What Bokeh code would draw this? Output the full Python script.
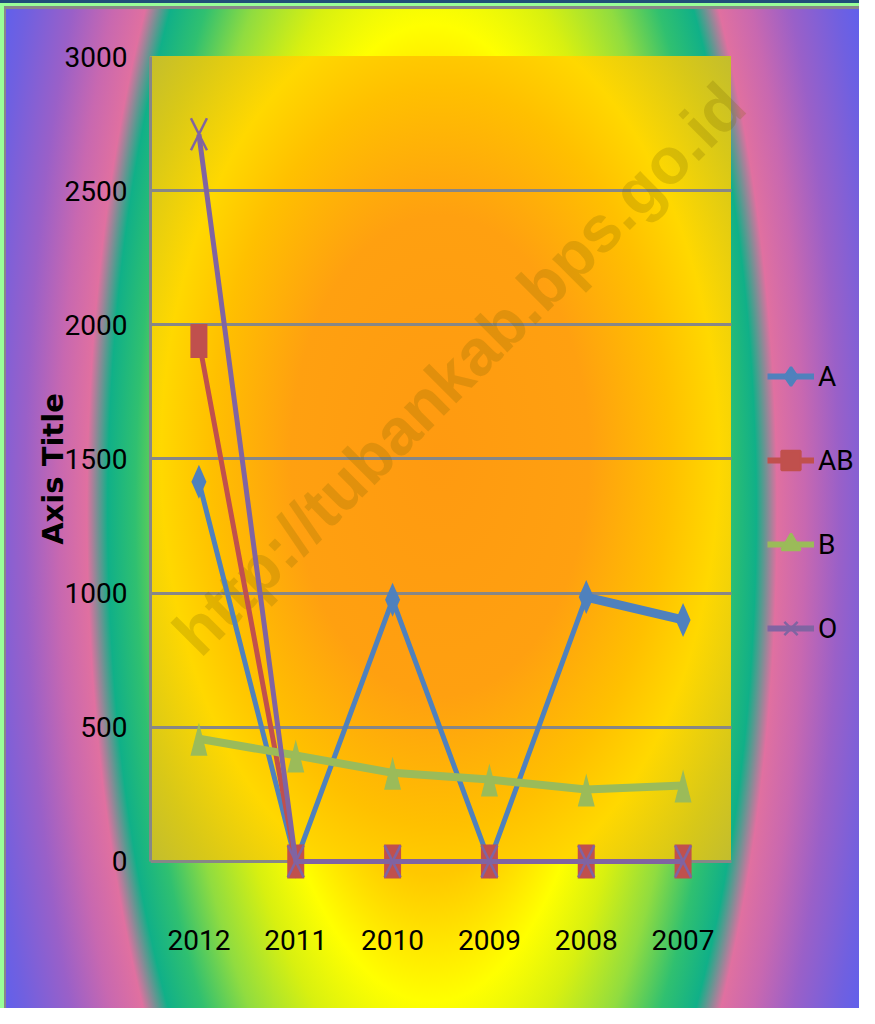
import numpy as np
from bokeh.plotting import figure
from bokeh.models import FixedTicker, Legend, LegendItem, Range1d
from bokeh.core.properties import value
from bokeh.embed import file_html
from bokeh.resources import INLINE

# ---- data ----
years = ["2012", "2011", "2010", "2009", "2008", "2007"]
a_vals = [1415, 0, 975, 0, 985, 900]
ab_vals = [1940, 0, 0, 0, 0, 0]
b_vals = [457, 395, 330, 305, 268, 283]
o_vals = [2710, 0, 0, 0, 0, 0]
y_ticks = [0, 500, 1000, 1500, 2000, 2500, 3000]
series_names = ["A", "AB", "B", "O"]
watermark = "http://tubankab.bps.go.id"
y_title = "Axis Title"

# ---- layout / style ----
C_A, C_AB, C_B, C_O = "#4F81BD", "#C0504D", "#9BBB59", "#8064A2"
GRID = "#878787"
NARROW = "Roboto"
W, H = 859, 1008
FL, FT, FW, FH = 150, 56, 581, 825     # visible plot area (left, top, width, height)
Y0, Y1 = -75, 3000
X0, X1 = -0.5, len(years) - 0.5
SX = FW / (X1 - X0)          # px per x unit
SY = FH / (Y1 - Y0)          # px per y unit
XR = X1 + (W - FL - FW) / SX  # frame extended to the right edge (room for legend)
xs = list(range(len(years)))

frame_bg = ("radial-gradient(ellipse 310px 500px at 290px 400px, #FF9A10 0%, #FFA010 48%, "
            "#FFC000 74%, #FFD800 90%, #D8C818 110%, #B8B838 130%) "
            f"{FL}px {FT}px / {FW}px 805px no-repeat")
outer_bg = ("radial-gradient(ellipse 345px 905px at 426px 504px, #FFA000 0%, #FFC800 40%, #FFFF00 54%, "
            "#D8F010 64%, #90DC40 76%, #30C070 86%, #10B088 94%, #E070A0 100%, #C868B0 108%, "
            "#9A60C8 118%, #7060E0 130%, #5060F8 142%) 6px 9px / 853px 999px no-repeat")
page_bg = ", ".join([
    frame_bg,
    outer_bg,
    "linear-gradient(#888888,#888888) 4px 6px / 855px 1002px no-repeat",
    "linear-gradient(#1F4E79,#1F4E79) 0px 0px / 100% 3px no-repeat",
    "#99FF99",
])

p = figure(width=W, height=H, x_range=Range1d(X0, XR), y_range=Range1d(Y0, Y1),
           output_backend="svg", toolbar_location=None,
           min_border_left=FL, min_border_top=FT,
           min_border_right=0, min_border_bottom=H - FT - FH)
p.styles = {"background": page_bg}
p.border_fill_color = None
p.background_fill_color = None
p.outline_line_color = None

# axes
p.xaxis.ticker = FixedTicker(ticks=xs)
p.xaxis.major_label_overrides = {i: y for i, y in enumerate(years)}
p.xaxis.axis_line_color = None
p.xaxis.major_tick_line_color = None
p.xaxis.minor_tick_line_color = None
p.xaxis.major_label_standoff = 42
p.xaxis.major_label_text_font = NARROW
p.xaxis.major_label_text_font_size = "28px"
p.xaxis.major_label_text_color = "#000000"

p.yaxis.ticker = FixedTicker(ticks=y_ticks)
p.yaxis.bounds = (0, 3000)
p.yaxis.axis_line_color = GRID
p.yaxis.axis_line_width = 3
p.yaxis.major_tick_line_color = None
p.yaxis.minor_tick_line_color = None
p.yaxis.major_label_standoff = 17
p.yaxis.major_label_text_font = NARROW
p.yaxis.major_label_text_font_size = "28px"
p.yaxis.major_label_text_color = "#000000"
p.yaxis.axis_label = y_title
p.yaxis.axis_label_text_font = "DejaVu Sans"
p.yaxis.axis_label_text_font_style = "bold"
p.yaxis.axis_label_text_font_size = "29px"
p.yaxis.axis_label_text_color = "#000000"
p.yaxis.axis_label_standoff = -8

p.xgrid.grid_line_color = None
p.ygrid.ticker = FixedTicker(ticks=y_ticks)
p.ygrid.cross_bounds = (X0, X1)
p.ygrid.grid_line_color = GRID
p.ygrid.grid_line_width = 3

# watermark
wm_x = X0 + 34 / SX
wm_y = 0 + 218 / SY
p.text(x=[wm_x], y=[wm_y], text=[watermark], angle=45, angle_units="deg",
       text_font=value("Liberation Sans"), text_font_style="bold", text_font_size="65px",
       text_color="#786400", text_alpha=0.22, text_align="left", text_baseline="alphabetic")

# marker helpers (pixel sizes -> data offsets)
def diamond(xv, yv, hw=7.5, hh=17):
    dx, dy = hw / SX, hh / SY
    return ([[x - dx, x, x + dx, x] for x in xv], [[y, y + dy, y, y - dy] for y in yv])

def triangle(xv, yv, hw=8.5, up=16, down=17):
    dx, du, dd = hw / SX, up / SY, down / SY
    return ([[x - dx, x, x + dx] for x in xv], [[y - dd, y + du, y - dd] for y in yv])

def cross(xv, yv, hw=8, hh=16):
    dx, dy = hw / SX, hh / SY
    mx, my = [], []
    for x, y in zip(xv, yv):
        mx += [[x - dx, x + dx], [x - dx, x + dx]]
        my += [[y - dy, y + dy], [y + dy, y - dy]]
    return mx, my

# A series (last segment drawn thicker as in the reference)
a_widths = [5, 5, 5, 5, 9]
p.segment(x0=xs[:-1], y0=a_vals[:-1], x1=xs[1:], y1=a_vals[1:], line_color=C_A,
          line_width=a_widths, line_cap="round")
dx_, dy_ = diamond(xs, a_vals)
p.patches(dx_, dy_, fill_color=C_A, line_color=None)

# AB series
p.line(xs, ab_vals, line_color=C_AB, line_width=5, line_join="round")
p.rect(xs, ab_vals, width=17, height=34, width_units="screen", height_units="screen",
       fill_color=C_AB, line_color=None)

# B series
p.line(xs, b_vals, line_color=C_B, line_width=8, line_join="round")
tx_, ty_ = triangle(xs, b_vals)
p.patches(tx_, ty_, fill_color=C_B, line_color=None)

# O series
p.line(xs, o_vals, line_color=C_O, line_width=5, line_join="round")
cx_, cy_ = cross(xs, o_vals)
p.multi_line(cx_, cy_, line_color=C_O, line_width=2.5)

# legend proxies (nothing drawn in the plot)
nan = [np.nan]
items = []
for name, col, mk in zip(series_names, [C_A, C_AB, C_B, C_O], ["diamond", "square", "triangle", "x"]):
    lr = p.line(nan, nan, line_color=col, line_width=6)
    sr = p.scatter(nan, nan, marker=mk, fill_color=col, line_color=col, line_width=2.5, size=20)
    items.append(LegendItem(label=name, renderers=[lr, sr]))

legend = Legend(items=items, location=(617, 228), glyph_width=47, glyph_height=50,
                label_height=50, spacing=34, padding=0, margin=0, label_standoff=4,
                label_text_font=NARROW, label_text_font_size="28px", label_text_color="#000000",
                border_line_color=None, background_fill_alpha=0)
p.add_layout(legend)

open("out.html", "w").write(file_html(p, INLINE))
